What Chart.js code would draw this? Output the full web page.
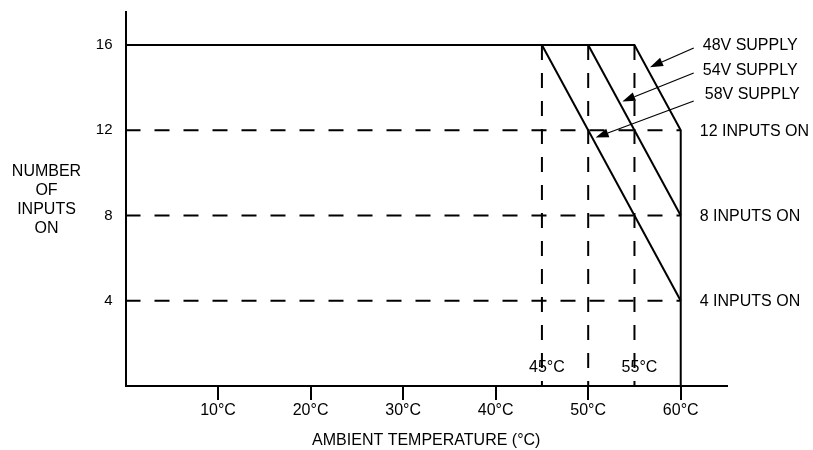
<!DOCTYPE html>
<html>
<head>
<meta charset="utf-8">
<script src="https://cdn.jsdelivr.net/npm/chart.js@4"></script>
<style>
  html, body { margin: 0; padding: 0; background: #fff; }
  canvas { display: block; }
</style>
</head>
<body>
<canvas id="chart" width="813" height="450"></canvas>
<script>
// Number of inputs that may be on versus ambient temperature, per supply voltage
const supplyLabels = ['48V SUPPLY', '54V SUPPLY', '58V SUPPLY'];
const deratingStartC = [55, 50, 45];   // temperature where each supply starts derating
const inputsAtMaxTemp = [12, 8, 4];     // inputs still allowed at the maximum temperature
const maxInputs = 16;
const maxTempC = 60;

const inputLevels = [12, 8, 4];
const inputLevelLabels = ['12 INPUTS ON', '8 INPUTS ON', '4 INPUTS ON'];
const tempMarkers = [45, 50, 55];
const tempMarkerLabels = ['45°C', '', '55°C'];

const tempTicks = [10, 20, 30, 40, 50, 60];
const inputTicks = [4, 8, 12, 16];

const FONT = "'Liberation Sans', Arial, Helvetica, sans-serif";
const INK = '#000';

// Solid derating curves: the 48V curve also carries the full-load plateau and the 60°C limit
const curveSets = supplyLabels.map((name, i) => {
  const pts = [];
  if (i === 0) pts.push({ x: 0, y: maxInputs });
  pts.push({ x: deratingStartC[i], y: maxInputs });
  pts.push({ x: maxTempC, y: inputsAtMaxTemp[i] });
  if (i === 0) pts.push({ x: maxTempC, y: 0 });
  return {
    label: name,
    data: pts,
    borderColor: INK,
    borderWidth: 2,
    pointRadius: 0,
    fill: false,
    tension: 0
  };
});

// Dashed reference lines
const levelSets = inputLevels.map((lvl) => ({
  label: lvl + ' inputs',
  data: [{ x: 0, y: lvl }, { x: maxTempC, y: lvl }],
  borderColor: INK,
  borderWidth: 2,
  borderDash: [15, 14],
  pointRadius: 0,
  fill: false
}));
const markerSets = tempMarkers.map((t) => ({
  label: t + '°C',
  data: [{ x: t, y: maxInputs }, { x: t, y: 0 }],
  borderColor: INK,
  borderWidth: 2,
  borderDash: [15, 13],
  pointRadius: 0,
  fill: false
}));

// Text and arrow annotations
const annotations = {
  id: 'annotations',
  afterDatasetsDraw(chart) {
    const { ctx, scales: { x, y }, chartArea } = chart;
    ctx.save();
    ctx.fillStyle = INK;
    ctx.strokeStyle = INK;
    ctx.font = '16px ' + FONT;

    // labels for the dashed input levels
    ctx.textAlign = 'left';
    ctx.textBaseline = 'middle';
    inputLevels.forEach((lvl, i) => {
      ctx.fillText(inputLevelLabels[i], x.getPixelForValue(maxTempC) + 19, y.getPixelForValue(lvl) + 1);
    });

    // temperature marker labels above the axis
    ctx.textAlign = 'center';
    tempMarkers.forEach((t, i) => {
      if (tempMarkerLabels[i]) ctx.fillText(tempMarkerLabels[i], x.getPixelForValue(t) + 5, chartArea.bottom - 18.5);
    });

    // supply labels with arrows pointing at their curves
    const labelX = x.getPixelForValue(maxTempC) + 22;
    const top = y.getPixelForValue(maxInputs);
    const labelDy = [1, 26, 50];
    const tailDy = [2, 2, 6];
    const tipValue = [14.96, 13.35, 11.66];
    supplyLabels.forEach((name, i) => {
      const ly = top + labelDy[i];
      ctx.textAlign = 'left';
      ctx.fillText(name, labelX + (i === 2 ? 2 : 0), ly);

      const span = maxInputs - inputsAtMaxTemp[i];
      const tx = deratingStartC[i] + (maxInputs - tipValue[i]) / span * (maxTempC - deratingStartC[i]);
      const tipX = x.getPixelForValue(tx) + 3.5;
      const tipY = y.getPixelForValue(tipValue[i]);
      const tailX = labelX - 9;
      const tailY = ly + tailDy[i];
      const ang = Math.atan2(tipY - tailY, tipX - tailX);
      const len = 13, hw = 4.5;
      const bx = tipX - len * Math.cos(ang), by = tipY - len * Math.sin(ang);

      ctx.lineWidth = 1.2;
      ctx.beginPath();
      ctx.moveTo(tailX, tailY);
      ctx.lineTo(bx, by);
      ctx.stroke();

      ctx.beginPath();
      ctx.moveTo(tipX, tipY);
      ctx.lineTo(bx + hw * Math.sin(ang), by - hw * Math.cos(ang));
      ctx.lineTo(bx - hw * Math.sin(ang), by + hw * Math.cos(ang));
      ctx.closePath();
      ctx.fill();
    });

    // y axis title, stacked horizontally
    ctx.textAlign = 'center';
    const yTitle = ['NUMBER', 'OF', 'INPUTS', 'ON'];
    yTitle.forEach((line, i) => {
      ctx.fillText(line, 46.5, 172 + i * 18.8);
    });
    ctx.restore();
  }
};

new Chart(document.getElementById('chart'), {
  type: 'line',
  data: { datasets: [...levelSets, ...markerSets, ...curveSets] },
  options: {
    responsive: false,
    animation: false,
    devicePixelRatio: 1,
    layout: { padding: { top: 12, right: 86, left: 0, bottom: 0 } },
    plugins: { legend: { display: false }, tooltip: { enabled: false } },
    scales: {
      x: {
        type: 'linear',
        min: 0,
        max: 65,
        afterBuildTicks: (s) => { s.ticks = tempTicks.map((v) => ({ value: v })); },
        afterFit: (s) => { s.height = 64; s.paddingLeft = 0; s.paddingRight = 0; },
        ticks: {
          callback: (v) => v + '°C',
          color: INK,
          font: { family: FONT, size: 16 },
          padding: 1,
          maxRotation: 0,
          autoSkip: false
        },
        grid: { drawOnChartArea: false, drawTicks: true, tickLength: 14, color: INK, lineWidth: 2 },
        border: { display: true, color: INK, width: 2 },
        title: {
          display: true,
          text: 'AMBIENT TEMPERATURE (°C)',
          color: INK,
          font: { family: FONT, size: 16 },
          padding: { top: 0, bottom: 0 }
        }
      },
      y: {
        type: 'linear',
        min: 0,
        max: 17.55,
        afterBuildTicks: (s) => { s.ticks = inputTicks.map((v) => ({ value: v })); },
        afterFit: (s) => { s.width = 125.5; s.paddingTop = 0; s.paddingBottom = 0; },
        ticks: {
          color: INK,
          font: { family: FONT, size: 15 },
          padding: 13,
          autoSkip: false
        },
        grid: { drawOnChartArea: false, drawTicks: false },
        border: { display: true, color: INK, width: 2 }
      }
    }
  },
  plugins: [annotations]
});
</script>
</body>
</html>
